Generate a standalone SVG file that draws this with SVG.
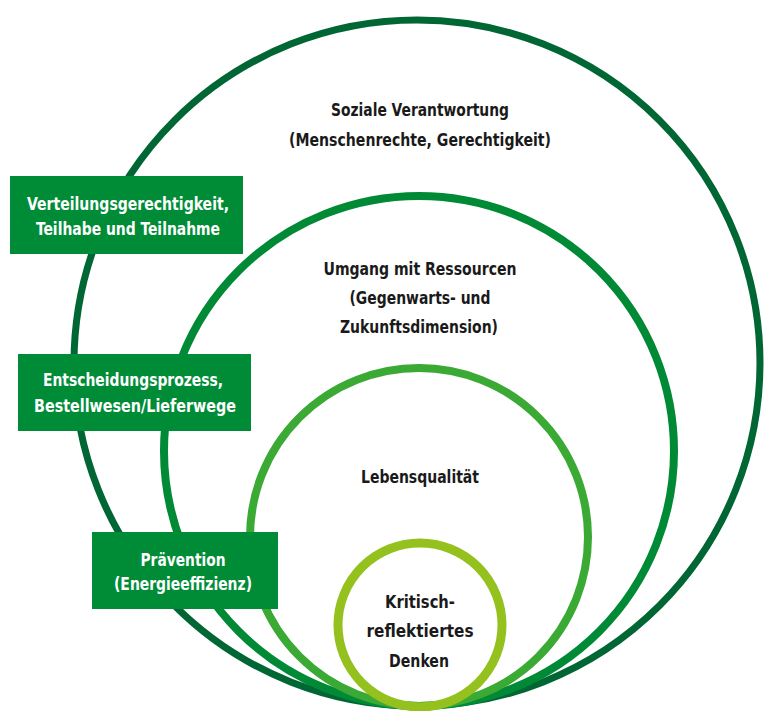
<svg xmlns="http://www.w3.org/2000/svg" width="764" height="711" viewBox="0 0 764 711">
<style>
.ring{fill:none}
.lbl{font-family:"DejaVu Sans Condensed","Liberation Sans Narrow",Roboto,"Liberation Sans",sans-serif;font-weight:bold;text-anchor:middle;fill:#1a1a1a;font-size:18px}
.big{font-size:18.5px}
.box rect{fill:#008C37}
.box text{fill:#ffffff;font-size:17px}
</style>
<rect width="764" height="711" fill="#ffffff"/>
<g id="soziale-verantwortung">
<circle class="ring" cx="417" cy="363" r="343" stroke="#006633" stroke-width="7"/>
<text class="lbl" x="420" y="116" textLength="178" lengthAdjust="spacingAndGlyphs">Soziale Verantwortung</text>
<text class="lbl" x="420" y="146" textLength="262" lengthAdjust="spacingAndGlyphs">(Menschenrechte, Gerechtigkeit)</text>
</g>
<g id="umgang-mit-ressourcen">
<circle class="ring" cx="419" cy="451" r="255" stroke="#008A36" stroke-width="8"/>
<text class="lbl" x="420" y="275" textLength="193" lengthAdjust="spacingAndGlyphs">Umgang mit Ressourcen</text>
<text class="lbl" x="420" y="304" textLength="141" lengthAdjust="spacingAndGlyphs">(Gegenwarts- und</text>
<text class="lbl" x="419" y="333" textLength="158" lengthAdjust="spacingAndGlyphs">Zukunftsdimension)</text>
</g>
<g id="lebensqualitaet">
<circle class="ring" cx="419" cy="537" r="169" stroke="#3AAA35" stroke-width="8"/>
<text class="lbl" x="420" y="483" textLength="118" lengthAdjust="spacingAndGlyphs">Lebensqualität</text>
</g>
<g id="kritisch-reflektiertes-denken">
<circle class="ring" cx="420" cy="625" r="82" stroke="#95C11F" stroke-width="9"/>
<text class="lbl big" x="420" y="608" textLength="70" lengthAdjust="spacingAndGlyphs">Kritisch-</text>
<text class="lbl big" x="420" y="637" textLength="107" lengthAdjust="spacingAndGlyphs">reflektiertes</text>
<text class="lbl big" x="419" y="667" textLength="60" lengthAdjust="spacingAndGlyphs">Denken</text>
</g>
<g id="verteilungsgerechtigkeit" class="box">
<rect x="10" y="176" width="233" height="78"/>
<text class="lbl" x="128" y="210" textLength="202" lengthAdjust="spacingAndGlyphs">Verteilungsgerechtigkeit,</text>
<text class="lbl" x="128" y="235" textLength="184" lengthAdjust="spacingAndGlyphs">Teilhabe und Teilnahme</text>
</g>
<g id="entscheidungsprozess" class="box">
<rect x="18" y="354" width="233" height="77"/>
<text class="lbl" x="133" y="386" textLength="180" lengthAdjust="spacingAndGlyphs">Entscheidungsprozess,</text>
<text class="lbl" x="135" y="412" textLength="202" lengthAdjust="spacingAndGlyphs">Bestellwesen/Lieferwege</text>
</g>
<g id="praevention" class="box">
<rect x="92" y="532" width="186" height="77"/>
<text class="lbl" x="183" y="566" textLength="85" lengthAdjust="spacingAndGlyphs">Prävention</text>
<text class="lbl" x="183" y="590" textLength="138" lengthAdjust="spacingAndGlyphs">(Energieeffizienz)</text>
</g>
</svg>
